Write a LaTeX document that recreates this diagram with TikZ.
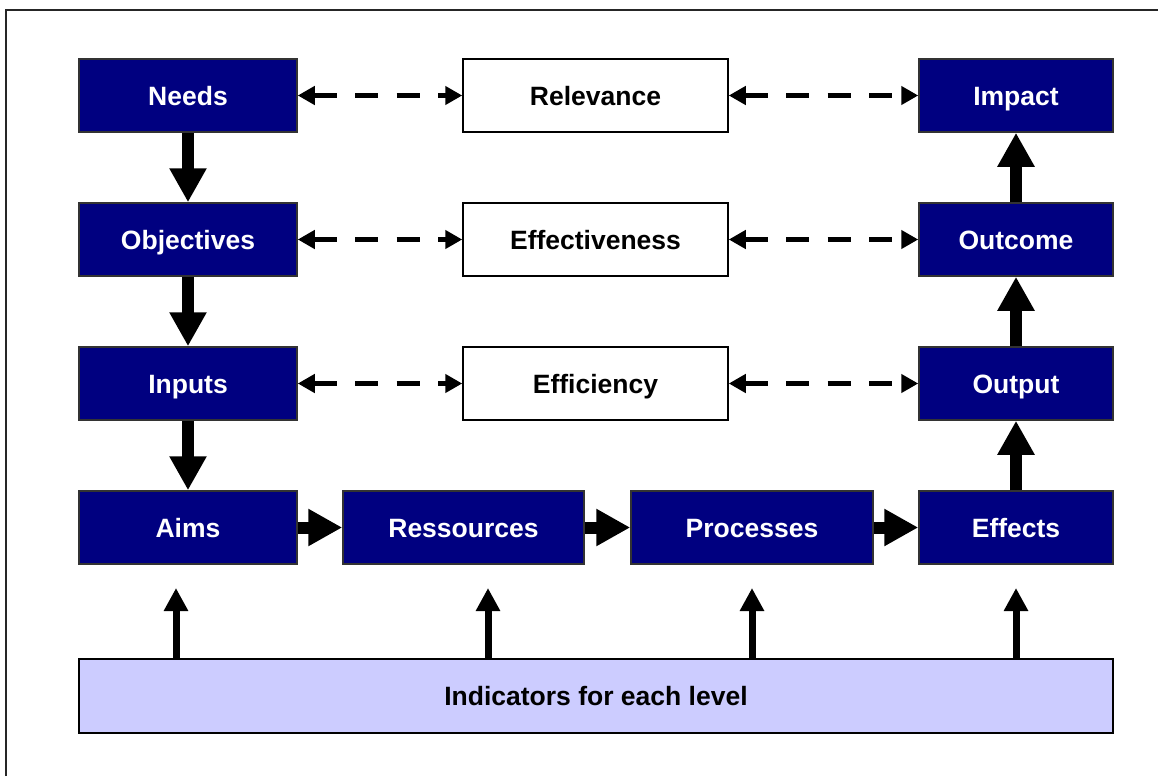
\documentclass[tikz,border=0pt]{standalone}
\usepackage{fontspec}
\setmainfont{Liberation Sans}
\usetikzlibrary{arrows.meta}
\definecolor{navy}{HTML}{000080}
\definecolor{indfill}{HTML}{CCCCFF}
\begin{document}
\begin{tikzpicture}[x=1pt,y=-1pt,
  every node/.style={font=\fontsize{26.5}{30}\selectfont\bfseries, inner sep=0pt, text height=19pt, text depth=0pt},
  bluebox/.style={draw=black!80, line width=1.5pt, fill=navy, text=white, minimum height=73pt},
  whitebox/.style={draw=black, line width=1.5pt, fill=white, text=black, minimum height=73pt, minimum width=265pt},
  indbox/.style={draw=black, line width=2pt, fill=indfill, text=black, minimum height=74pt, minimum width=1034pt},
  bigarrow/.style={line width=12pt, -{Triangle[length=34pt,width=35pt]}},
  dasharrow/.style={line width=5.5pt, dash pattern=on 23pt off 18.5pt, {Triangle[length=17pt,width=18pt]}-{Triangle[length=17pt,width=18pt]}},
  indarrow/.style={line width=7pt, -{Triangle[length=23pt,width=23pt]}}]
\useasboundingbox (0,0) rectangle (1158,776);
\draw[line width=2pt, black!85] (6,776) -- (6,10) -- (1158,10);

% left column
\node[bluebox, minimum width=218pt] (needs) at (188,95.5) {Needs};
\node[bluebox, minimum width=218pt] (obj) at (188,239.5) {Objectives};
\node[bluebox, minimum width=218pt] (inp) at (188,383.5) {Inputs};
\node[bluebox, minimum width=218pt] (aims) at (188,527.5) {Aims};
% middle column
\node[whitebox] (rel) at (595.5,95.5) {Relevance};
\node[whitebox] (eff) at (595.5,239.5) {Effectiveness};
\node[whitebox] (effi) at (595.5,383.5) {Efficiency};
% right column
\node[bluebox, minimum width=194pt] (impact) at (1016,95.5) {Impact};
\node[bluebox, minimum width=194pt] (outcome) at (1016,239.5) {Outcome};
\node[bluebox, minimum width=194pt] (output) at (1016,383.5) {Output};
\node[bluebox, minimum width=194pt] (effects) at (1016,527.5) {Effects};
% bottom row
\node[bluebox, minimum width=241pt] (res) at (463.5,527.5) {Ressources};
\node[bluebox, minimum width=242pt] (proc) at (752,527.5) {Processes};
% indicators
\node[indbox] (ind) at (596,696) {Indicators for each level};

% thick arrows
\draw[bigarrow] (needs.south) -- (obj.north);
\draw[bigarrow] (obj.south) -- (inp.north);
\draw[bigarrow] (inp.south) -- (aims.north);
\draw[bigarrow] (aims.east) -- (res.west);
\draw[bigarrow] (res.east) -- (proc.west);
\draw[bigarrow] (proc.east) -- (effects.west);
\draw[bigarrow] (effects.north) -- (output.south);
\draw[bigarrow] (output.north) -- (outcome.south);
\draw[bigarrow] (outcome.north) -- (impact.south);

% dashed arrows
\draw[dasharrow] (needs.east) -- (rel.west);
\draw[dasharrow] (rel.east) -- (impact.west);
\draw[dasharrow] (obj.east) -- (eff.west);
\draw[dasharrow] (eff.east) -- (outcome.west);
\draw[dasharrow] (inp.east) -- (effi.west);
\draw[dasharrow] (effi.east) -- (output.west);

% indicator arrows
\coordinate (t1) at (176,588);
\coordinate (t2) at (488,588);
\coordinate (t3) at (752,588);
\coordinate (t4) at (1016,588);
\draw[indarrow] (ind.north -| t1) -- (t1);
\draw[indarrow] (ind.north -| t2) -- (t2);
\draw[indarrow] (ind.north -| t3) -- (t3);
\draw[indarrow] (ind.north -| t4) -- (t4);
\end{tikzpicture}
\end{document}
